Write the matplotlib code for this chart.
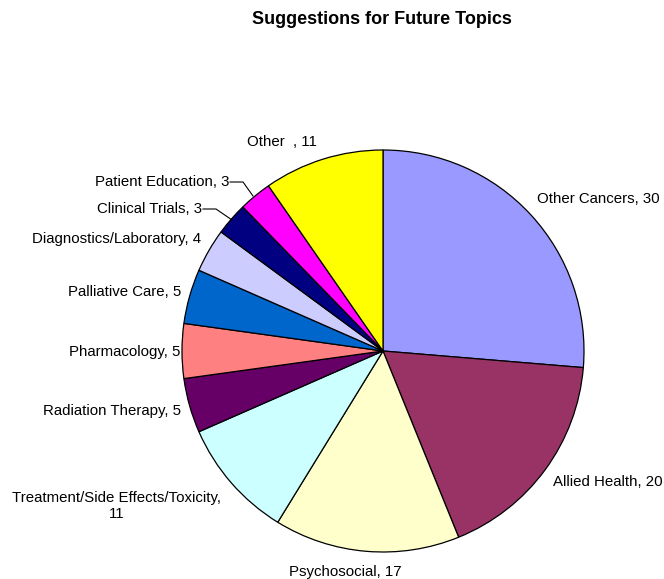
import matplotlib
matplotlib.use("Agg")
import matplotlib.pyplot as plt

categories = ["Other Cancers", "Allied Health", "Psychosocial",
              "Treatment/Side Effects/Toxicity", "Radiation Therapy", "Pharmacology",
              "Palliative Care", "Diagnostics/Laboratory", "Clinical Trials",
              "Patient Education", "Other  "]
values = [30, 20, 17, 11, 5, 5, 5, 4, 3, 3, 11]
colors = ["#9999FF", "#993366", "#FFFFCC", "#CCFFFF", "#660066", "#FF8080",
          "#0066CC", "#CCCCFF", "#000080", "#FF00FF", "#FFFF00"]

plt.rcParams['font.family'] = ['Liberation Sans', 'DejaVu Sans']

W, H = 664, 579
fig = plt.figure(figsize=(W / 100, H / 100), dpi=100)
cx, cy, R = 383, 351, 201
ax = fig.add_axes([(cx - R) / W, (H - cy - R) / H, 2 * R / W, 2 * R / H])
ax.pie(values, colors=colors, startangle=90, counterclock=False, radius=1,
       wedgeprops=dict(edgecolor="black", linewidth=0.9))
ax.set_xlim(-1, 1)
ax.set_ylim(-1, 1)
ax.set_aspect("equal")
ax.axis("off")

def d(px, py):
    return ((px - cx) / R, (cy - py) / R)

# label layout (pixel positions, alignment)
layout = [
    (537, 199, "left", "center"),
    (553, 482, "left", "center"),
    (345, 572, "center", "center"),
    (117, 506, "center", "center"),
    (181, 411, "right", "center"),
    (180, 352, "right", "center"),
    (181, 292, "right", "center"),
    (201, 239, "right", "center"),
    (202, 209, "right", "center"),
    (229, 182, "right", "center"),
    (282, 142, "center", "center"),
]
for cat, v, (px, py, ha, va) in zip(categories, values, layout):
    if cat.startswith("Treatment"):
        txt = f"{cat},\n{v}"
    else:
        txt = f"{cat}, {v}"
    x, y = d(px, py)
    ax.text(x, y, txt, ha=ha, va=va, fontsize=10.8, color="black",
            multialignment="center", clip_on=False, linespacing=1.1)

# leader lines for small slices
for pts in ([(203, 209), (216, 209), (232, 220)], [(230, 182), (243, 182), (253, 196)]):
    xs, ys = zip(*[d(*p) for p in pts])
    ax.plot(xs, ys, color="black", linewidth=0.8, clip_on=False)

fig.text(382 / W, 1 - 20 / H, "Suggestions for Future Topics", ha="center", va="center",
         fontsize=13, fontweight="bold")

fig.savefig("out.png", dpi=100, facecolor="white")
